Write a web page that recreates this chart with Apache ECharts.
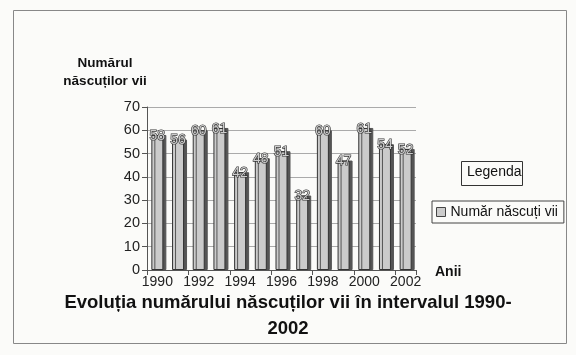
<!DOCTYPE html>
<html><head><meta charset="utf-8">
<script src="https://cdn.jsdelivr.net/npm/echarts@6/dist/echarts.min.js"></script>
<style>html,body{margin:0;padding:0;background:#fbfbf9}#c{width:576px;height:355px}</style>
</head><body><div id="c"></div>
<script>
const years = ['1990','1991','1992','1993','1994','1995','1996','1997','1998','1999','2000','2001','2002'];
const births = [58,56,60,61,42,48,51,32,60,47,61,54,52];
const yTicks = {min:0, max:70, interval:10};
const seriesName = 'Număr născuți vii';
const titleText = 'Evoluția numărului născuților vii în intervalul 1990-\n2002';
const yName = 'Numărul\nnăscuților vii';
const xName = 'Anii';

const chart = echarts.init(document.getElementById('c'), null, {renderer:'canvas'});
const F = '"Liberation Sans", Arial, sans-serif';
chart.setOption({
  backgroundColor:'#fbfbf9',
  animation:false,
  title:{text:titleText, left:283, textAlign:'center', top:285,
    textStyle:{fontFamily:F, fontSize:18.5, fontWeight:'bold', color:'#111', lineHeight:26}},
  legend:{data:[seriesName], left:432, top:201, orient:'vertical',
    borderColor:'#444', borderWidth:1, padding:[4,6,4,4], itemWidth:9, itemHeight:9, itemGap:4,
    icon:'rect', textStyle:{fontFamily:F, fontSize:14, color:'#111'},
    itemStyle:{color:'#ccc', borderColor:'#444', borderWidth:1}},
  graphic:[
    {type:'rect', shape:{x:13.5,y:10.5,width:553,height:333}, style:{fill:null, stroke:'#888', lineWidth:1}, silent:true},
    {type:'rect', shape:{x:461.5,y:161.5,width:61,height:24}, style:{fill:'#fbfbf9', stroke:'#333', lineWidth:1}},
    {type:'text', left:467, top:165, style:{text:'Legenda', font:'14px "Liberation Sans", Arial', fill:'#111'}},
    {type:'text', left:435, top:265, style:{text:xName, font:'bold 14px "Liberation Sans", Arial', fill:'#111'}},
    {type:'text', style:{text:yName, x:105, y:54, textAlign:'center', font:'bold 13.5px "Liberation Sans", Arial', fill:'#111', lineHeight:18}}
  ],
  grid:{left:147, right:160, top:107, bottom:85},
  xAxis:{type:'category', data:years,
    axisLine:{lineStyle:{color:'#555'}}, axisTick:{show:true, alignWithLabel:false, lineStyle:{color:'#555'}},
    axisLabel:{interval:1, margin:5, fontFamily:F, fontSize:14, color:'#222'}},
  yAxis:{type:'value', min:yTicks.min, max:yTicks.max, interval:yTicks.interval,
    axisLine:{show:true, lineStyle:{color:'#555'}}, axisTick:{show:true, lineStyle:{color:'#555'}},
    axisLabel:{fontFamily:F, fontSize:14.5, color:'#222', margin:7},
    splitLine:{lineStyle:{color:'#aaa'}}},
  series:[{name:seriesName, type:'bar', data:births, barWidth:12,
    itemStyle:{color:'#cbcbcb', borderColor:'#333', borderWidth:1, shadowColor:'#555', shadowOffsetX:3, shadowOffsetY:0, shadowBlur:0},
    label:{show:true, position:'top', distance:-8, fontFamily:F, fontSize:14, color:'#ccc', textBorderColor:'#333', textBorderWidth:1.2}}]
});
</script></body></html>
